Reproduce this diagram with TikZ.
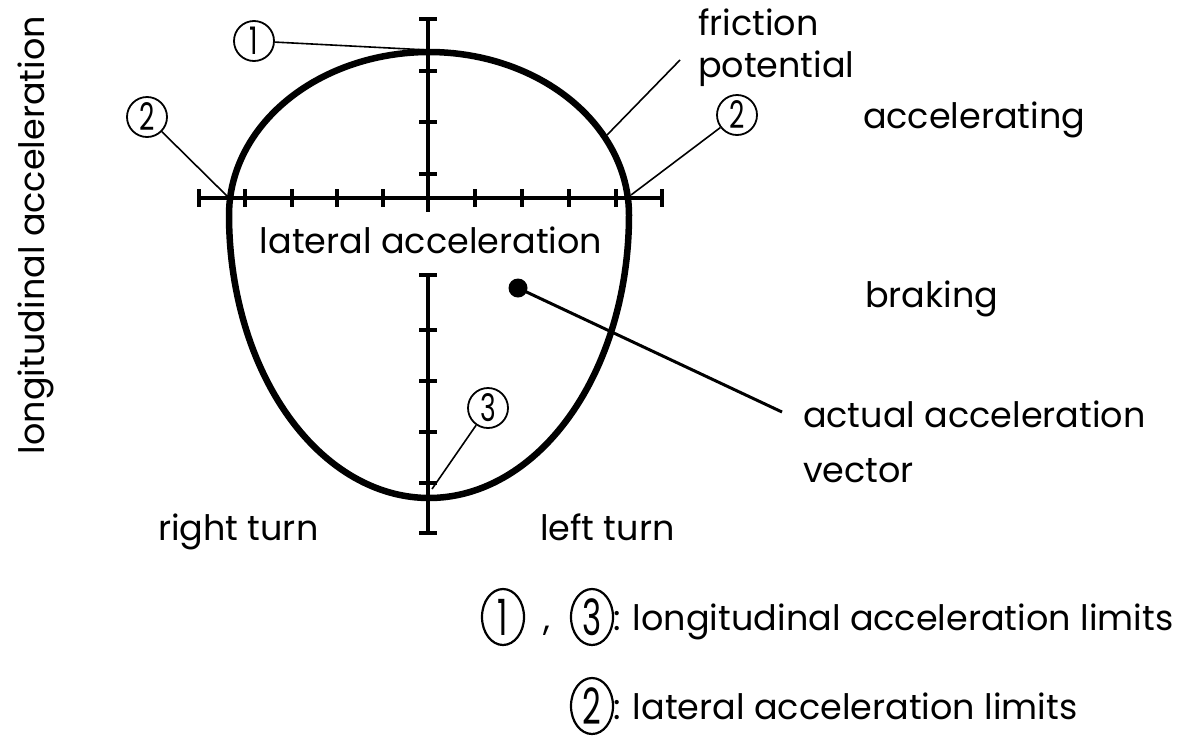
\documentclass[tikz,border=0pt]{standalone}
\usepackage{fontspec}
\setmainfont{Poppins}
\usepackage{graphicx}
\usetikzlibrary{shapes.geometric}
\begin{document}
\begin{tikzpicture}[x=1pt,y=-1pt,
  txt/.style={font=\fontsize{35}{40}\selectfont, inner sep=0pt, outer sep=0pt},
  num/.style={draw, circle, line width=1.8pt, minimum size=40pt, inner sep=0pt, font=\fontsize{38}{38}\selectfont},
  legnum/.style={draw, ellipse, line width=2.2pt, minimum width=42pt, minimum height=56pt, inner sep=0pt, font=\fontsize{50}{50}\selectfont},
  lead/.style={line width=1.6pt},
  axisline/.style={line width=4pt},
  tickmark/.style={line width=4.5pt},
  egg/.style={line width=6.5pt, line cap=round, line join=round}]
\useasboundingbox (0,0) rectangle (1177,742);
\fill[white] (0,0) rectangle (1177,742);

% friction potential (egg shape)
\draw[egg] plot[domain=180:360, samples=90, variable=\t] ({429+200*cos(\t)},{215+163*sin(\t)})
  -- plot[domain=0:180, samples=120, variable=\t] ({429+200*cos(\t)},{215+283*sin(\t)});

% axes
\draw[axisline] (428,19) -- (428,212);
\draw[axisline] (199,198) -- (662,198);
\draw[axisline] (428,275) -- (428,533);
\foreach \x in {199,245,292,337,383,475,522,569,616,662}
  \draw[tickmark] (\x,189) -- (\x,207);
\foreach \y in {19,71,122,174,275,330,381,432,483,533}
  \draw[tickmark] (419,\y) -- (437,\y);

% named points on the figure
\coordinate (ptop) at (428,50);
\coordinate (pleft) at (227,196);
\coordinate (pright) at (631,195);
\coordinate (pfric) at (607,135);
\coordinate (pbot) at (432,489);
\coordinate (vend) at (782,412);

% actual acceleration vector
\fill (518,288) circle (9.5pt);
\coordinate (dot) at (518,288);
\draw[line width=3pt] (dot) -- (vend);

% circled labels
\node[num] (n1) at (254,41) {\scalebox{0.7}[1]{1}};
\node[num] (n2l) at (147,117) {\scalebox{0.7}[1]{2}};
\node[num] (n2r) at (737,115) {\scalebox{0.7}[1]{2}};
\node[num] (n3) at (488,408) {\scalebox{0.7}[1]{3}};
\draw[lead] (n1) -- (ptop);
\draw[lead] (n2l) -- (pleft);
\draw[lead] (n2r) -- (pright);
\draw[lead] (n3) -- (pbot);

% texts
\node[txt, anchor=base west] (fric1) at (698,35) {friction};
\node[txt, anchor=base west] (fric2) at (698,77) {potential};
\coordinate (fricend) at (680,60);
\draw[lead] (fricend) -- (pfric);

\node[txt, anchor=base] (lat) at (431,253) {lateral acceleration};
\node[txt, anchor=base, rotate=90] (lon) at (44,235) {longitudinal acceleration};
\node[txt, anchor=base west] (acc) at (863,128) {accelerating};
\node[txt, anchor=base west] (brk) at (865,307) {braking};
\node[txt, anchor=base west] (act1) at (803,427) {actual acceleration};
\node[txt, anchor=base west] (act2) at (803,482) {vector};
\node[txt, anchor=base west] (rt) at (158,540) {right turn};
\node[txt, anchor=base west] (lt) at (540,540) {left turn};

% legend
\node[legnum] (l1) at (503,617) {\scalebox{0.65}[1]{1}};
\node[txt, anchor=base] (comma) at (547,630) {,};
\node[legnum] (l3) at (592,617) {\scalebox{0.65}[1]{3}};
\node[txt, anchor=base west] (leg1) at (613,630) {: longitudinal acceleration limits};
\node[legnum] (l2) at (592,706) {\scalebox{0.65}[1]{2}};
\node[txt, anchor=base west] (leg2) at (613,719) {: lateral acceleration limits};
\end{tikzpicture}
\end{document}
